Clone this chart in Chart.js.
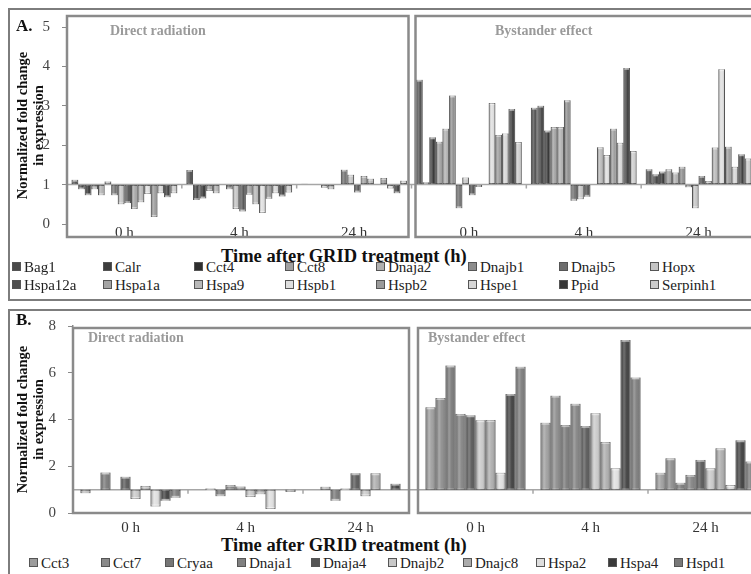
<!DOCTYPE html>
<html>
<head>
<meta charset="utf-8">
<script src="https://cdn.jsdelivr.net/npm/chart.js@4.4.0/dist/chart.umd.min.js"></script>
<style>
  html, body { margin: 0; padding: 0; width: 751px; height: 574px; overflow: hidden; background: #fff; }
  body { position: relative; font-family: "Liberation Serif", "Times New Roman", serif; color: #111; }
  .abs { position: absolute; white-space: nowrap; line-height: 1; }
  .frame { position: absolute; border: 2px solid #7d7d7d; box-sizing: border-box; }
  .panel-letter { font-weight: bold; font-size: 17px; }
  .group-name { font-weight: bold; font-size: 14px; color: #9a9a9a; }
  .axis-name { font-weight: bold; font-size: 18.5px; }
  .legend-item { position: absolute; font-size: 15px; white-space: nowrap; line-height: 1; color: #222; }
  .legend-item i { display: inline-block; width: 7px; height: 7px; margin-right: 3px; border: 1px solid #555; vertical-align: 1px; }
  .chart-box { position: absolute; }
</style>
</head>
<body>
<div class="frame" style="left:8px; top:8px; width:780px; height:293px;"></div>
<div class="frame" style="left:8px; top:309px; width:780px; height:290px;"></div>

<div class="chart-box" style="left:0; top:0; width:770px; height:245px;"><canvas id="chartA" width="770" height="245"></canvas></div>
<div class="chart-box" style="left:0; top:300px; width:775px; height:234px;"><canvas id="chartB" width="775" height="234"></canvas></div>

<div class="abs panel-letter" style="left:16px; top:17px;">A.</div>
<div class="abs panel-letter" style="left:16px; top:311px;">B.</div>
<div class="abs group-name" style="left:110px; top:24px;">Direct radiation</div>
<div class="abs group-name" style="left:495px; top:24px;">Bystander effect</div>
<div class="abs group-name" style="left:88px; top:331px;">Direct radiation</div>
<div class="abs group-name" style="left:428px; top:331px;">Bystander effect</div>
<div class="abs axis-name" style="left:221px; top:247px;">Time after GRID treatment (h)</div>
<div class="abs axis-name" style="left:221px; top:536px;">Time after GRID treatment (h)</div>
<div id="legendA"></div>
<div id="legendB"></div>

<script>
// x categories: direct radiation (first three) then bystander effect (last three)
const timeLabels = ['0 h', '4 h', '24 h', '0 h', '4 h', '24 h'];

// Panel A genes, fold change per time point
const genesA = ['Bag1', 'Calr', 'Cct4', 'Cct8', 'Dnaja2', 'Dnajb1', 'Dnajb5', 'Hopx',
                'Hspa12a', 'Hspa1a', 'Hspa9', 'Hspb1', 'Hspb2', 'Hspe1', 'Ppid', 'Serpinh1'];
const bag1     = [1.12, 1.37, 1.02, 3.66, 2.95, 1.39];
const calr     = [0.88, 0.61, 1.00, 1.06, 3.00, 1.26];
const cct4     = [0.73, 0.65, 1.00, 2.20, 2.37, 1.33];
const cct8     = [0.88, 0.84, 0.92, 2.09, 2.46, 1.39];
const dnaja2   = [0.73, 0.78, 0.88, 2.42, 2.46, 1.31];
const dnajb1   = [1.08, 1.00, 1.00, 3.26, 3.14, 1.45];
const dnajb5   = [0.73, 0.88, 1.38, 0.40, 0.59, 0.93];
const hopx     = [0.50, 0.38, 1.25, 1.18, 0.63, 0.40];
const hspa12a  = [0.53, 0.32, 0.80, 0.73, 0.69, 1.22];
const hspa1a   = [0.38, 0.74, 1.22, 0.94, 1.00, 1.09];
const hspa9    = [0.55, 0.50, 1.15, 1.00, 1.95, 1.94];
const hspb1    = [0.76, 0.28, 1.00, 3.07, 1.75, 3.93];
const hspb2    = [0.18, 0.64, 1.17, 2.26, 2.42, 1.96];
const hspe1    = [0.78, 0.78, 0.90, 2.30, 2.06, 1.45];
const ppid     = [0.68, 0.70, 0.78, 2.92, 3.96, 1.77];
const serpinh1 = [0.78, 0.80, 1.10, 2.08, 1.85, 1.66];
const valuesA = [bag1, calr, cct4, cct8, dnaja2, dnajb1, dnajb5, hopx,
                 hspa12a, hspa1a, hspa9, hspb1, hspb2, hspe1, ppid, serpinh1];
const shadesA = ['#4a4a4a', '#3d3d3d', '#2e2e2e', '#a0a0a0', '#b0b0b0', '#8c8c8c', '#6e6e6e', '#c4c4c4',
                 '#505050', '#a4a4a4', '#b8b8b8', '#dedede', '#9a9a9a', '#d6d6d6', '#383838', '#cccccc'];

// Panel B genes
const genesB = ['Cct3', 'Cct7', 'Cryaa', 'Dnaja1', 'Dnaja4', 'Dnajb2', 'Dnajc8', 'Hspa2', 'Hspa4', 'Hspd1'];
const cct3   = [0.85, 1.00, 1.00, 4.52, 3.86, 1.72];
const cct7   = [1.00, 1.05, 1.12, 4.92, 5.02, 2.34];
const cryaa  = [1.73, 0.72, 0.52, 6.31, 3.76, 1.29];
const dnaja1 = [1.00, 1.20, 1.05, 4.24, 4.67, 1.63];
const dnaja4 = [1.55, 1.13, 1.70, 4.18, 3.72, 2.27];
const dnajb2 = [0.60, 0.68, 0.72, 3.97, 4.27, 1.91];
const dnajc8 = [1.16, 0.80, 1.70, 3.98, 3.04, 2.77];
const hspa2  = [0.28, 0.17, 1.00, 1.72, 1.91, 1.20];
const hspa4  = [0.52, 1.00, 1.25, 5.09, 7.40, 3.11];
const hspd1  = [0.65, 0.90, 1.00, 6.26, 5.80, 2.20];
const valuesB = [cct3, cct7, cryaa, dnaja1, dnaja4, dnajb2, dnajc8, hspa2, hspa4, hspd1];
const shadesB = ['#9c9c9c', '#8a8a8a', '#767676', '#808080', '#545454', '#c8c8c8', '#ababab', '#dedede', '#3a3a3a', '#787878'];

const yTitle = ['Normalized fold change', 'in expression'];
const serif = '"Liberation Serif", "Times New Roman", serif';

// baseline at fold change 1 with small marks between time points
const baselinePlugin = {
    id: 'baseline',
    beforeDatasetsDraw(chart) {
        const { ctx, chartArea, scales } = chart;
        const y = scales.y.getPixelForValue(1);
        ctx.save();
        ctx.strokeStyle = '#a6a6a6';
        ctx.lineWidth = 1.5;
        ctx.beginPath();
        ctx.moveTo(chartArea.left, y);
        ctx.lineTo(chartArea.right, y);
        for (let i = 0; i < timeLabels.length - 1; i++) {
            const bx = (scales.x.getPixelForValue(i) + scales.x.getPixelForValue(i + 1)) / 2;
            ctx.moveTo(bx, y);
            ctx.lineTo(bx, y + 4);
        }
        ctx.stroke();
        ctx.restore();
    }
};

// cylinder-like shading over each bar
const shadePlugin = {
    id: 'shade',
    afterDatasetsDraw(chart) {
        const ctx = chart.ctx;
        ctx.save();
        chart.data.datasets.forEach((ds, di) => {
            chart.getDatasetMeta(di).data.forEach(bar => {
                const { x, y, base, width } = bar.getProps(['x', 'y', 'base', 'width']);
                const left = x - width / 2;
                const top = Math.min(y, base);
                const h = Math.abs(base - y);
                if (h < 0.5) return;
                const g = ctx.createLinearGradient(left, 0, left + width, 0);
                g.addColorStop(0, 'rgba(0,0,0,0.30)');
                g.addColorStop(0.35, 'rgba(255,255,255,0.28)');
                g.addColorStop(0.65, 'rgba(255,255,255,0.05)');
                g.addColorStop(1, 'rgba(0,0,0,0.30)');
                ctx.fillStyle = g;
                ctx.fillRect(left, top, width, h);
                ctx.fillStyle = 'rgba(255,255,255,0.45)';
                ctx.fillRect(left + 1, y < base ? top : top + h - 2, width - 2, 2);
            });
        });
        ctx.restore();
    }
};

// the two gray frames: direct radiation and bystander effect
function groupBoxes(topOff, bottomOff, gapLeft, gapRight) {
    return {
        id: 'groupBoxes',
        afterDatasetsDraw(chart) {
            const { ctx, chartArea, scales } = chart;
            const split = (scales.x.getPixelForValue(2) + scales.x.getPixelForValue(3)) / 2;
            const top = chartArea.top + topOff;
            const bottom = chartArea.bottom + bottomOff;
            ctx.save();
            ctx.strokeStyle = '#8a8a8a';
            ctx.lineWidth = 2.5;
            ctx.strokeRect(chartArea.left, top, split - gapLeft - chartArea.left, bottom - top);
            ctx.strokeRect(split + gapRight, top, chart.width + 20 - split, bottom - top);
            ctx.restore();
        }
    };
}

function makeChart(id, genes, values, shades, yMax, yStep, yWidth, padTop, padRight, catPct, tickPad, boxes) {
    const datasets = genes.map((g, i) => ({
        label: g,
        data: values[i],
        base: 1,
        backgroundColor: shades[i],
        borderColor: 'rgba(40,40,40,0.75)',
        borderWidth: 1,
        borderSkipped: false,
        barPercentage: 1,
        categoryPercentage: catPct
    }));
    return new Chart(document.getElementById(id), {
        type: 'bar',
        data: { labels: timeLabels, datasets },
        options: {
            responsive: false,
            animation: false,
            layout: { padding: { top: padTop, right: padRight, left: 0, bottom: 0 } },
            plugins: { legend: { display: false }, tooltip: { enabled: false } },
            scales: {
                x: {
                    grid: { display: false, drawTicks: false },
                    border: { display: false },
                    ticks: { color: '#333', font: { family: serif, size: 15 }, padding: tickPad, maxRotation: 0 },
                    afterFit: s => { s.height = 20; }
                },
                y: {
                    min: 0,
                    max: yMax,
                    ticks: { stepSize: yStep, color: '#444', font: { family: serif, size: 15 }, padding: 12 },
                    grid: { drawOnChartArea: false, drawTicks: true, tickLength: 5, color: '#8a8a8a' },
                    border: { display: true, color: '#8a8a8a', width: 1.5 },
                    title: {
                        display: true,
                        text: yTitle,
                        color: '#111',
                        font: { family: serif, size: 14.5, weight: 'bold', lineHeight: 1.1 },
                        padding: { top: 15, bottom: 0 }
                    },
                    afterFit: s => { s.width = yWidth; }
                }
            }
        },
        plugins: [baselinePlugin, shadePlugin, boxes]
    });
}

makeChart('chartA', genesA, valuesA, shadesA, 5, 1, 67, 27, 14, 0.92, 0, groupBoxes(-11, 13, 3, 4));
makeChart('chartB', genesB, valuesB, shadesB, 8, 2, 73, 26, 12, 0.87, 6, groupBoxes(2, 0, 9, 0));

// HTML legends laid out in the figure's grid
function buildLegend(el, genes, shades, cols, rows) {
    genes.forEach((g, i) => {
        const item = document.createElement('div');
        item.className = 'legend-item';
        item.style.left = cols[i % cols.length] + 'px';
        item.style.top = rows[Math.floor(i / cols.length)] + 'px';
        const box = document.createElement('i');
        box.style.background = shades[i];
        item.appendChild(box);
        item.appendChild(document.createTextNode(g));
        el.appendChild(item);
    });
}
buildLegend(document.getElementById('legendA'), genesA, shadesA,
            [12, 103, 194, 285, 376, 468, 559, 650], [260, 278]);
buildLegend(document.getElementById('legendB'), genesB, shadesB,
            [29, 101, 165, 237, 311, 388, 463, 536, 608, 674], [556]);
</script>
</body>
</html>
